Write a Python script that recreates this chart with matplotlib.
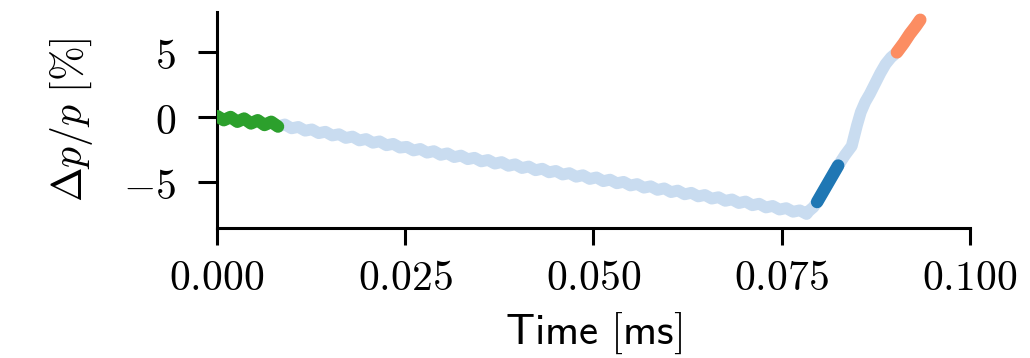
import matplotlib
matplotlib.use("Agg")
import matplotlib.pyplot as plt
from matplotlib.ticker import FuncFormatter
import numpy as np

plt.rcParams["mathtext.fontset"] = "cm"

# descending branch (time in ms, dp/p in %)
time_down = [
    0.0000, 0.0009, 0.0018, 0.0027, 0.0036, 0.0045, 0.0054, 0.0063, 0.0072, 0.0081,
    0.0090, 0.0099, 0.0108, 0.0117, 0.0126, 0.0135, 0.0144, 0.0153, 0.0162, 0.0171,
    0.0180, 0.0189, 0.0198, 0.0207, 0.0216, 0.0225, 0.0234, 0.0243, 0.0252, 0.0261,
    0.0270, 0.0279, 0.0288, 0.0297, 0.0306, 0.0315, 0.0324, 0.0333, 0.0342, 0.0351,
    0.0360, 0.0369, 0.0378, 0.0387, 0.0396, 0.0405, 0.0414, 0.0423, 0.0432, 0.0441,
    0.0450, 0.0459, 0.0468, 0.0477, 0.0486, 0.0495, 0.0504, 0.0513, 0.0522, 0.0531,
    0.0540, 0.0549, 0.0558, 0.0567, 0.0576, 0.0585, 0.0594, 0.0603, 0.0612, 0.0621,
    0.0630, 0.0639, 0.0648, 0.0657, 0.0666, 0.0675, 0.0684, 0.0693, 0.0702, 0.0711,
    0.0720, 0.0729, 0.0738, 0.0747, 0.0756, 0.0765, 0.0774, 0.0783,
]
dp_down = [
    0.10, -0.21, 0.03, -0.33, -0.09, -0.46, -0.22, -0.58, -0.34, -0.70,
    -0.54, -0.84, -0.73, -1.02, -0.92, -1.21, -1.10, -1.39, -1.29, -1.58,
    -1.47, -1.77, -1.66, -1.95, -1.84, -2.14, -2.03, -2.32, -2.26, -2.54,
    -2.42, -2.71, -2.59, -2.88, -2.76, -3.05, -2.93, -3.21, -3.10, -3.38,
    -3.27, -3.55, -3.43, -3.72, -3.60, -3.89, -3.77, -4.06, -3.94, -4.22,
    -4.11, -4.39, -4.28, -4.56, -4.44, -4.73, -4.61, -4.90, -4.78, -5.06,
    -4.95, -5.23, -5.12, -5.40, -5.29, -5.57, -5.45, -5.74, -5.62, -5.91,
    -5.79, -6.07, -5.96, -6.24, -6.13, -6.41, -6.30, -6.58, -6.46, -6.75,
    -6.63, -6.92, -6.80, -7.08, -6.97, -7.25, -7.14, -7.42,
]
# rising branch
time_up = [0.0786, 0.0792, 0.0797, 0.0805, 0.0812, 0.0818, 0.0825, 0.0834, 0.0843,
           0.0850, 0.0855, 0.0861, 0.0867, 0.0874, 0.0881, 0.0888, 0.0895, 0.0903,
           0.0912, 0.0920, 0.0928, 0.0934]
dp_up = [-7.2, -6.9, -6.5, -5.7, -5.0, -4.4, -3.7, -2.9, -2.2,
         -0.6, 0.4, 1.2, 1.8, 2.6, 3.4, 4.1, 4.6, 5.0,
         5.7, 6.4, 7.0, 7.5]

# highlighted windows (ms)
green_win = (0.0, 0.0083)
dark_win = (0.0797, 0.0825)
orange_win = (0.0903, 0.0934)

LIGHT = "#c9dcf0"
COLORS = {"green": "#2ca02c", "dark": "#1f77b4", "orange": "#fc8d62"}

t = np.array(time_down + time_up)
dp = np.array(dp_down + dp_up)

fig = plt.figure(figsize=(10.3, 3.58), dpi=100)
ax = fig.add_axes([0.2107, 0.363, 0.7310, 0.6035])

lw = 8.5
ax.plot(t, dp, color=LIGHT, linewidth=lw, solid_capstyle="round",
        solid_joinstyle="round", zorder=2)
for key, win in (("green", green_win), ("dark", dark_win), ("orange", orange_win)):
    m = (t >= win[0] - 1e-9) & (t <= win[1] + 1e-9)
    ax.plot(t[m], dp[m], color=COLORS[key], linewidth=lw + 0.5,
            solid_capstyle="round", solid_joinstyle="round", zorder=3)

ax.set_xlim(0.0, 0.1)
ax.set_ylim(-8.5, 8.1)
ax.set_xticks([0.0, 0.025, 0.05, 0.075, 0.1])
ax.set_yticks([-5, 0, 5])
ax.xaxis.set_major_formatter(FuncFormatter(lambda v, p: f"${v:.3f}$"))
ax.yaxis.set_major_formatter(FuncFormatter(lambda v, p: f"${v:g}$"))

for side in ("top", "right"):
    ax.spines[side].set_visible(False)
for side in ("left", "bottom"):
    ax.spines[side].set_linewidth(2.2)
ax.tick_params(axis="both", which="major", labelsize=30, length=12, width=2.2)
ax.tick_params(axis="x", pad=9)
ax.tick_params(axis="y", length=13.5, pad=16)

ax.set_xlabel(r"$\mathsf{Time\ [ms]}$", fontsize=31, labelpad=8)
ax.set_ylabel(r"$\Delta p/p\ [\%]$", fontsize=30, labelpad=20)

fig.savefig("out.png", dpi=100)
